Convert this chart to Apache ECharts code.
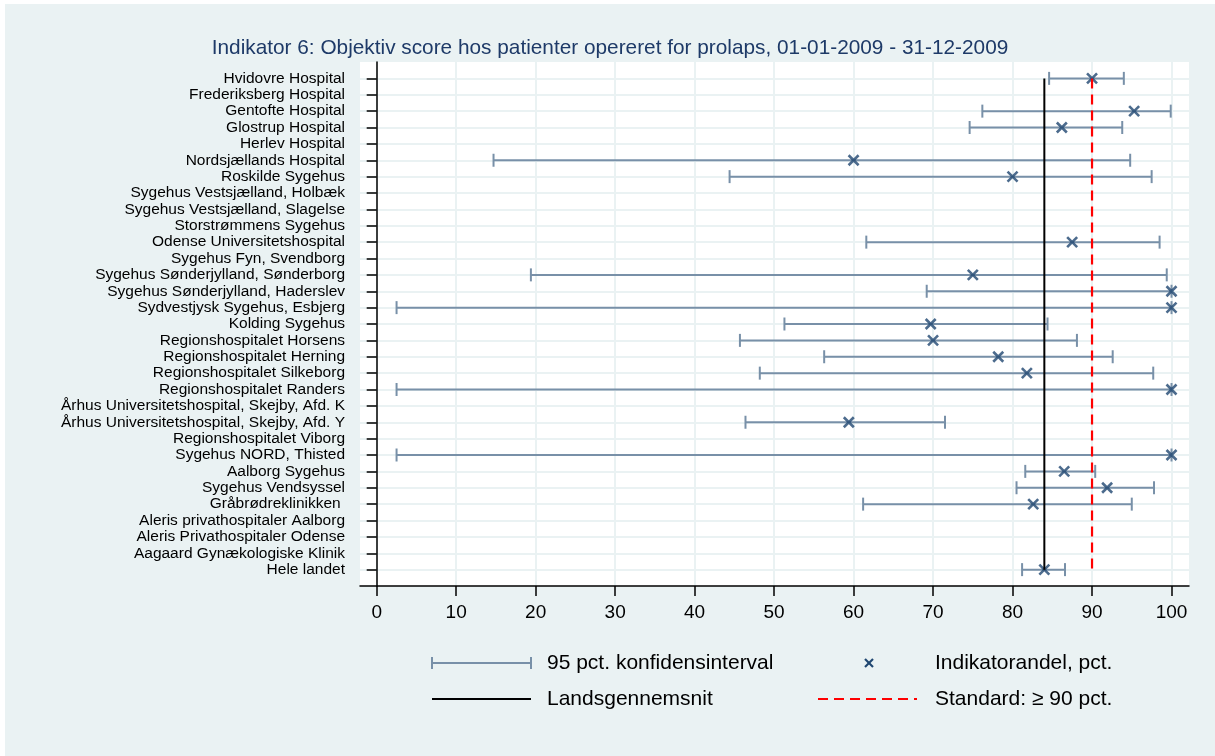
<!DOCTYPE html>
<html>
<head>
<meta charset="utf-8">
<script src="https://cdn.jsdelivr.net/npm/echarts@6/dist/echarts.min.js"></script>
<style>
  body { margin: 0; background: #ffffff; }
  #chart { position: absolute; left: 5px; top: 4px; width: 1210px; height: 752px; }
</style>
</head>
<body>
<div id="chart"></div>
<script>
// hospitals, top to bottom
var hospitals = [
  'Hvidovre Hospital', 'Frederiksberg Hospital', 'Gentofte Hospital', 'Glostrup Hospital',
  'Herlev Hospital', 'Nordsjællands Hospital', 'Roskilde Sygehus',
  'Sygehus Vestsjælland, Holbæk', 'Sygehus Vestsjælland, Slagelse', 'Storstrømmens Sygehus',
  'Odense Universitetshospital', 'Sygehus Fyn, Svendborg', 'Sygehus Sønderjylland, Sønderborg',
  'Sygehus Sønderjylland, Haderslev', 'Sydvestjysk Sygehus, Esbjerg', 'Kolding Sygehus',
  'Regionshospitalet Horsens', 'Regionshospitalet Herning', 'Regionshospitalet Silkeborg',
  'Regionshospitalet Randers', 'Århus Universitetshospital, Skejby, Afd. K',
  'Århus Universitetshospital, Skejby, Afd. Y', 'Regionshospitalet Viborg',
  'Sygehus NORD, Thisted', 'Aalborg Sygehus', 'Sygehus Vendsyssel', 'Gråbrødreklinikken ',
  'Aleris privathospitaler Aalborg', 'Aleris Privathospitaler Odense',
  'Aagaard Gynækologiske Klinik', 'Hele landet'
];
// indikatorandel, pct.
var share = [90.0, null, 95.3, 86.2, null, 60.0, 80.0, null, null, null, 87.5, null, 75.0, 100, 100,
  69.7, 70.0, 78.2, 81.8, 100, null, 59.4, null, 100, 86.5, 91.9, 82.6, null, null, null, 84.0];
// 95 pct. konfidensinterval
var ciLow = [84.6, null, 76.2, 74.6, null, 14.7, 44.4, null, null, null, 61.6, null, 19.4, 69.2, 2.5,
  51.3, 45.7, 56.3, 48.2, 2.5, null, 46.4, null, 2.5, 81.6, 80.5, 61.2, null, null, null, 81.2];
var ciHigh = [94.0, null, 99.9, 93.8, null, 94.8, 97.5, null, null, null, 98.5, null, 99.4, 100, 100,
  84.4, 88.1, 92.6, 97.7, 100, null, 71.5, null, 100, 90.4, 97.8, 95.0, null, null, null, 86.6];
var nationalAvg = 84.0;
var standard = 90;
var xTicks = [0, 10, 20, 30, 40, 50, 60, 70, 80, 90, 100];

var FONT = 'Liberation Sans, Arial, sans-serif';
var ciColor = '#7890a8';
var markColor = '#1f4670';

// blank slots at both ends give the padding above the first and below the last row
var yCats = [' '].concat(hospitals, ['  ']);

var ciData = [], pointData = [];
for (var i = 0; i < hospitals.length; i++) {
  if (ciLow[i] != null) ciData.push([ciLow[i], ciHigh[i], hospitals[i]]);
  if (share[i] != null) pointData.push([share[i], hospitals[i]]);
}
var first = hospitals[0], last = hospitals[hospitals.length - 1];

var chart = echarts.init(document.getElementById('chart'));
chart.setOption({
  animation: false,
  backgroundColor: '#eaf2f3',
  title: {
    text: 'Indikator 6: Objektiv score hos patienter opereret for prolaps, 01-01-2009 - 31-12-2009',
    left: 'center', top: 29,
    textStyle: { fontFamily: FONT, fontSize: 20.8, fontWeight: 'normal', color: '#1e3a68' }
  },
  grid: { left: 355, top: 58, width: 829, height: 524, backgroundColor: '#ffffff', show: true, borderWidth: 0 },
  xAxis: {
    type: 'value', min: -2.1, max: 102.2,
    axisLine: { show: true, lineStyle: { color: '#000', width: 1.5 } },
    axisTick: { show: true, length: 10, customValues: xTicks, lineStyle: { color: '#000', width: 1.5 } },
    axisLabel: { customValues: xTicks, fontFamily: FONT, fontSize: 19, color: '#000', margin: 17 },
    splitLine: { show: true, lineStyle: { color: '#eaf2f3', width: 2 } }
  },
  yAxis: {
    type: 'category', data: yCats, inverse: true, boundaryGap: false,
    axisLine: { show: true, lineStyle: { color: '#000', width: 1.5 } },
    axisTick: { show: true, length: 10, lineStyle: { color: '#000', width: 1.5 },
      interval: function (idx) { return idx > 0 && idx < yCats.length - 1; } },
    axisLabel: { interval: 0, fontFamily: FONT, fontSize: 15.5, color: '#000', margin: 15 },
    splitLine: { show: true, lineStyle: { color: '#eaf2f3', width: 2 },
      interval: function (idx) { return idx > 0 && idx < yCats.length - 1; } }
  },
  series: [
    {
      type: 'custom', name: '95 pct. konfidensinterval', data: ciData,
      encode: { x: [0, 1], y: 2 },
      renderItem: function (params, api) {
        var a = api.coord([api.value(0), api.value(2)]);
        var b = api.coord([api.value(1), api.value(2)]);
        var st = { stroke: ciColor, lineWidth: 2 };
        return { type: 'group', children: [
          { type: 'line', shape: { x1: a[0], y1: a[1], x2: b[0], y2: b[1] }, style: st },
          { type: 'line', shape: { x1: a[0], y1: a[1] - 6.5, x2: a[0], y2: a[1] + 6.5 }, style: st },
          { type: 'line', shape: { x1: b[0], y1: b[1] - 6.5, x2: b[0], y2: b[1] + 6.5 }, style: st }
        ] };
      }
    },
    {
      type: 'line', name: 'Landsgennemsnit', symbol: 'none',
      data: [[nationalAvg, first], [nationalAvg, last]],
      lineStyle: { color: '#000', width: 2 }
    },
    {
      type: 'line', name: 'Standard', symbol: 'none',
      data: [[standard, first], [standard, last]],
      lineStyle: { color: '#ff0000', width: 2.2, type: [10, 6] }
    },
    {
      type: 'scatter', name: 'Indikatorandel, pct.', data: pointData,
      symbol: 'path://M0,0L10,10M10,0L0,10', symbolSize: 10,
      itemStyle: { color: 'rgba(0,0,0,0)', borderColor: markColor, borderWidth: 2.6 }
    }
  ],
  graphic: [
    { type: 'line', shape: { x1: 427, y1: 659, x2: 526, y2: 659 }, style: { stroke: ciColor, lineWidth: 2 } },
    { type: 'line', shape: { x1: 427, y1: 653, x2: 427, y2: 665 }, style: { stroke: ciColor, lineWidth: 2 } },
    { type: 'line', shape: { x1: 526, y1: 653, x2: 526, y2: 665 }, style: { stroke: ciColor, lineWidth: 2 } },
    { type: 'text', x: 542, y: 659, style: { text: '95 pct. konfidensinterval', font: '21px ' + FONT, fill: '#000', verticalAlign: 'middle' } },
    { type: 'line', shape: { x1: 860, y1: 655, x2: 868, y2: 663 }, style: { stroke: markColor, lineWidth: 2.2 } },
    { type: 'line', shape: { x1: 868, y1: 655, x2: 860, y2: 663 }, style: { stroke: markColor, lineWidth: 2.2 } },
    { type: 'text', x: 930, y: 659, style: { text: 'Indikatorandel, pct.', font: '21px ' + FONT, fill: '#000', verticalAlign: 'middle' } },
    { type: 'line', shape: { x1: 427, y1: 695, x2: 526, y2: 695 }, style: { stroke: '#000', lineWidth: 2 } },
    { type: 'text', x: 542, y: 695, style: { text: 'Landsgennemsnit', font: '21px ' + FONT, fill: '#000', verticalAlign: 'middle' } },
    { type: 'line', shape: { x1: 813, y1: 695, x2: 912, y2: 695 }, style: { stroke: '#ff0000', lineWidth: 2, lineDash: [10, 6] } },
    { type: 'text', x: 930, y: 695, style: { text: 'Standard: ≥ 90 pct.', font: '21px ' + FONT, fill: '#000', verticalAlign: 'middle' } }
  ]
});
</script>
</body>
</html>
